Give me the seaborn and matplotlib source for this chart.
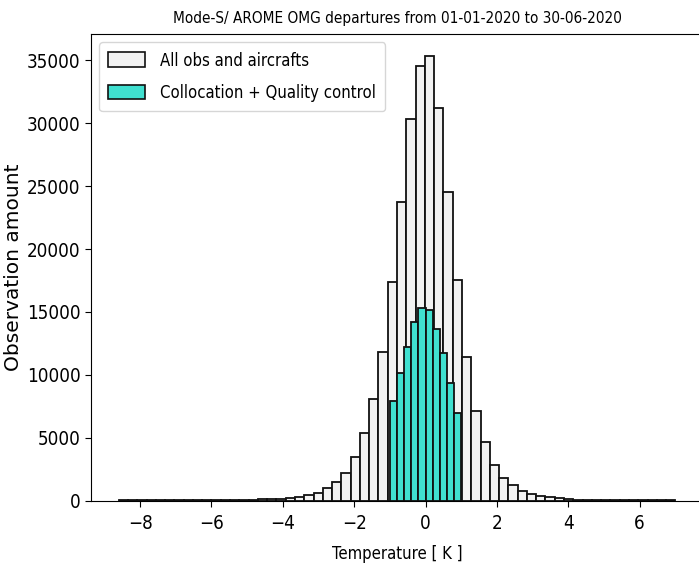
import numpy as np
import pandas as pd
import matplotlib
matplotlib.use("Agg")
import matplotlib.pyplot as plt
from matplotlib.patches import Patch
import seaborn as sns

# ---- data ----
all_range = (-8.6, 7.0)          # K, 60 bins
all_counts = [5, 6, 8, 10, 12, 14, 16, 18, 20, 24,
              30, 36, 44, 55, 70, 90, 110, 140, 200, 300,
              410, 620, 970, 1440, 2150, 3470, 5360, 8040, 11830, 17340,
              23750, 30330, 34540, 35330, 31220, 24550, 17530, 11430, 7140, 4640,
              2820, 1810, 1210, 760, 520, 360, 250, 200, 120, 80,
              60, 45, 35, 28, 22, 17, 13, 10, 8, 6]
qc_range = (-1.0, 1.0)           # K, 10 bins
qc_counts = [7930, 10160, 12180, 14190, 15280, 15140, 13660, 11700, 9370, 6930]

title = "Mode-S/ AROME OMG departures from 01-01-2020 to 30-06-2020"
xlabel = "Temperature [ K ]"
ylabel = "Observation amount"
labels = ["All obs and aircrafts", "Collocation + Quality control"]

all_edges = np.linspace(all_range[0], all_range[1], len(all_counts) + 1).tolist()
qc_edges = np.linspace(qc_range[0], qc_range[1], len(qc_counts) + 1).tolist()
df_all = pd.DataFrame({"x": [(a + b) / 2 for a, b in zip(all_edges[:-1], all_edges[1:])],
                       "w": all_counts})
df_qc = pd.DataFrame({"x": [(a + b) / 2 for a, b in zip(qc_edges[:-1], qc_edges[1:])],
                      "w": qc_counts})

plt.rcParams['font.family'] = ['DejaVu Sans']
plt.rcParams['font.stretch'] = 'condensed'
fig = plt.figure(figsize=(6.99, 5.63), dpi=100)
ax = fig.add_axes([0.130, 0.111, 0.876, 0.8286])

c_all = "#f2f2f2"
c_qc = "turquoise"
sns.histplot(data=df_all, x="x", weights="w", bins=all_edges, color=c_all,
             edgecolor="#111111", linewidth=1.3, alpha=1, ax=ax)
sns.histplot(data=df_qc, x="x", weights="w", bins=qc_edges, color=c_qc,
             edgecolor="#111111", linewidth=1.3, alpha=1, ax=ax)

ax.set_xlim(-9.38, 7.78)
ax.set_ylim(0, 37100)
ax.set_xticks([-8, -6, -4, -2, 0, 2, 4, 6])
ax.set_xticklabels(["\u22128", "\u22126", "\u22124", "\u22122", "0", "2", "4", "6"])
ax.set_yticks(range(0, 35001, 5000))
ax.tick_params(labelsize=13.5, length=4, direction="out")
ax.tick_params(axis="x", pad=5.5)
ax.set_xlabel(xlabel, fontsize=12, labelpad=9)
ax.set_ylabel(ylabel, fontsize=14.5, fontstretch='normal', labelpad=3)
ax.set_title(title, fontsize=11, pad=8)
ax.grid(False)

handles = [Patch(facecolor=c_all, edgecolor="#111111", linewidth=1.2),
           Patch(facecolor=c_qc, edgecolor="#111111", linewidth=1.2)]
ax.legend(handles, labels, loc="upper left", fontsize=12, frameon=True,
          labelspacing=0.85, handlelength=2.2, handleheight=1.0, borderpad=0.55,
          handletextpad=0.9)

fig.savefig("out.png", dpi=100)
